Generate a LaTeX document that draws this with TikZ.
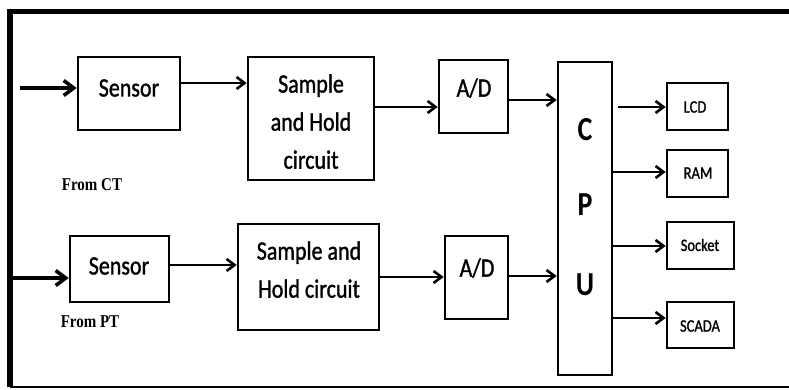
\documentclass[tikz,border=0pt]{standalone}
\usepackage{graphicx}
\usepackage{fontspec}
\setmainfont{Carlito}
\newfontfamily\tnr{Liberation Serif}
\usetikzlibrary{arrows.meta}
\newcommand\vstr[1]{\scalebox{1}[1.2]{#1}}
\newcommand\mlines[1]{\vstr{\begin{tabular}{@{}c@{}}#1\end{tabular}}}
\begin{document}
\begin{tikzpicture}[x=1pt,y=-1pt,
  blk/.style={draw, line width=2.6pt, inner sep=0pt},
  lbl/.style={inner sep=0pt, font=\addfontfeature{FakeBold=1.4}\fontsize{22}{31.7}\selectfont},
  small/.style={inner sep=0pt, font=\addfontfeature{FakeBold=1.2}\fontsize{14.5}{17}\selectfont},
  cpul/.style={inner sep=0pt, font=\bfseries\fontsize{28}{32}\selectfont},
  note/.style={inner sep=0pt, font=\tnr\bfseries\fontsize{15}{18}\selectfont},
  arr/.style={line width=2.4pt, -{Straight Barb[length=8pt,width=12pt,line width=2.6pt]}},
  inarr/.style={line width=4.5pt, -{Straight Barb[length=10pt,width=15pt,line width=3.6pt]}}]
\useasboundingbox (0,0) rectangle (789,390);
% frame
\draw[line width=5.5pt, line join=miter] (10,387) -- (10,11.5) -- (789,11.5);
\draw[line width=1.5pt] (10,387) -- (789,387);
% boxes
\node[blk, minimum width=102, minimum height=73] (sen1) at (129,93.5) {};
\node[blk, minimum width=126, minimum height=123] (sh1) at (311,118.5) {};
\node[blk, minimum width=69, minimum height=73] (ad1) at (473.5,96.5) {};
\node[blk, minimum width=54, minimum height=313] (cpu) at (585,218.5) {};
\node[blk, minimum width=61, minimum height=47] (lcd) at (697.5,106.5) {};
\node[blk, minimum width=61, minimum height=47] (ram) at (697.5,173.5) {};
\node[blk, minimum width=67, minimum height=47] (sock) at (700.5,245.5) {};
\node[blk, minimum width=67, minimum height=46] (scada) at (700.5,325) {};
\node[blk, minimum width=99, minimum height=66] (sen2) at (119.5,269) {};
\node[blk, minimum width=141, minimum height=106] (sh2) at (308.5,277) {};
\node[blk, minimum width=63, minimum height=83] (ad2) at (476.5,277.5) {};
% texts
\node[lbl] (tsen1) at (129,88) {\vstr{Sensor}};
\node[lbl] (tsh1) at (311,123) {\mlines{Sample\\and Hold\\circuit}};
\node[lbl] (tad1) at (474,88) {\vstr{A/D}};
\node[lbl] (tsen2) at (119,266) {\vstr{Sensor}};
\node[lbl] (tsh2) at (309,271) {\mlines{Sample and\\Hold circuit}};
\node[lbl] (tad2) at (477,268) {\vstr{A/D}};
\node[cpul] (tc) at (585,130) {\vstr{C}};
\node[cpul] (tp) at (585,205) {\vstr{P}};
\node[cpul] (tu) at (585,285) {\vstr{U}};
\node[small] (tlcd) at (695,107) {\vstr{LCD}};
\node[small] (tram) at (698,173) {\vstr{RAM}};
\node[small] (tsock) at (700,245) {\vstr{Socket}};
\node[small] (tscada) at (700,326) {\vstr{SCADA}};
\node[note] (fct) at (92,185) {\vstr{From CT}};
\node[note] (fpt) at (90,322) {\vstr{From PT}};
% connectors
\coordinate (in1) at (20,88);
\coordinate (in2) at (10,278);
\coordinate (lcdst) at (618,107);
\draw[inarr] (in1) -- (sen1.west |- in1);
\draw[inarr] (in2) -- (sen2.west |- in2);
\draw[arr] (sen1.east |- 0,83) -- (sh1.west |- 0,83);
\draw[arr] (sh1.east |- 0,107) -- (ad1.west |- 0,107);
\draw[arr] (ad1.east |- 0,100) -- (cpu.west |- 0,100);
\draw[arr] (lcdst) -- (lcd.west |- lcdst);
\draw[arr] (cpu.east |- 0,172) -- (ram.west |- 0,172);
\draw[arr] (cpu.east |- 0,246) -- (sock.west |- 0,246);
\draw[arr] (cpu.east |- 0,318) -- (scada.west |- 0,318);
\draw[arr] (sen2.east |- 0,265) -- (sh2.west |- 0,265);
\draw[arr] (sh2.east |- 0,277) -- (ad2.west |- 0,277);
\draw[arr] (ad2.east |- 0,276) -- (cpu.west |- 0,276);
\end{tikzpicture}
\end{document}
